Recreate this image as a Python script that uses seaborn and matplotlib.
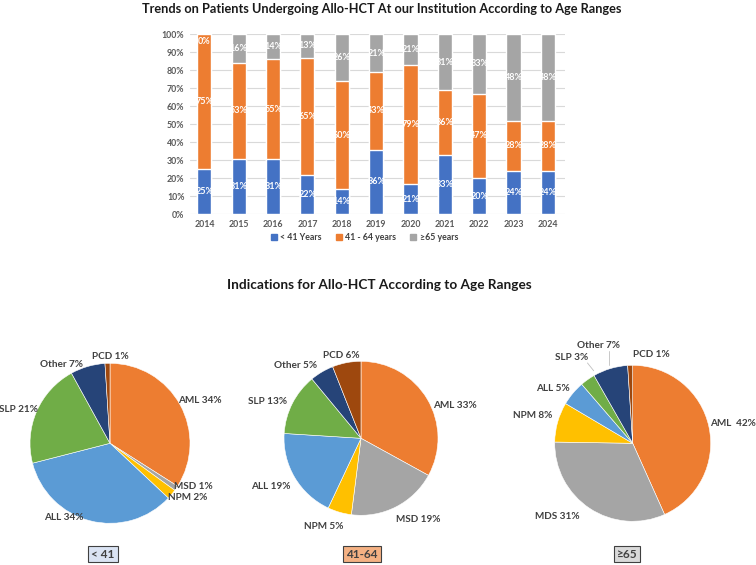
import numpy as np
import matplotlib
matplotlib.use("Agg")
import matplotlib.pyplot as plt
from matplotlib.patches import Patch
import seaborn as sns

# bar chart data (segment heights as drawn, and the printed labels)
years = ['2014', '2015', '2016', '2017', '2018', '2019', '2020', '2021', '2022', '2023', '2024']
under41 = [25, 31, 31, 22, 14, 36, 17, 33, 20, 24, 24]
age41_64 = [75, 53, 55, 65, 60, 43, 66, 36, 47, 28, 28]
over65 = [0, 16, 14, 13, 26, 21, 17, 31, 33, 48, 48]
under41_lbl = [25, 31, 31, 22, 14, 36, 21, 33, 20, 24, 24]
age41_64_lbl = [75, 53, 55, 65, 60, 43, 79, 36, 47, 28, 28]
over65_lbl = [0, 16, 14, 13, 26, 21, 21, 31, 33, 48, 48]

# pie data
pie_left_names = ['AML', 'MSD', 'NPM', 'ALL', 'SLP', 'Other', 'PCD']
pie_left_vals = [34, 1, 2, 34, 21, 7, 1]
pie_mid_names = ['AML', 'MSD', 'NPM', 'ALL', 'SLP', 'Other', 'PCD']
pie_mid_vals = [33, 19, 5, 19, 13, 5, 6]
pie_right_names = ['AML ', 'MDS', 'NPM', 'ALL', 'SLP', 'Other', 'PCD']
pie_right_vals = [42, 31, 8, 5, 3, 7, 1]
group_names = ['< 41', '41-64', '\u226565']

BLUE, ORANGE, GRAY = '#4472C4', '#ED7D31', '#A5A5A5'
pie_colors = ['#ED7D31', '#A5A5A5', '#FFC000', '#5B9BD5', '#70AD47', '#264478', '#9E480E']

sns.set_style("white")
plt.rcParams['font.family'] = ['Lato', 'DejaVu Sans']

W, H = 756, 565
fig = plt.figure(figsize=(W / 100, H / 100), dpi=100)

# ---------- stacked bars ----------
ax = fig.add_axes([190 / W, 1 - 214.3 / H, 375 / W, 180 / H])
cum1 = np.array(under41)
cum2 = cum1 + np.array(age41_64)
cum3 = cum2 + np.array(over65)
sns.barplot(x=years, y=cum3, color=GRAY, width=0.41, saturation=1, ax=ax, zorder=2)
sns.barplot(x=years, y=cum2, color=ORANGE, width=0.41, saturation=1, ax=ax, zorder=3)
sns.barplot(x=years, y=cum1, color=BLUE, width=0.41, saturation=1, ax=ax, zorder=4)

for i in range(len(years)):
    segs = [(0, cum1[i], under41_lbl[i]), (cum1[i], cum2[i], age41_64_lbl[i]), (cum2[i], cum3[i], over65_lbl[i])]
    for lo, hi, lab in segs:
        if hi - lo > 0:
            ax.text(i, (lo + hi) / 2, f'{lab}%', ha='center', va='center', color='white',
                    fontsize=6.5, fontweight='bold', zorder=5)
        else:
            ax.text(i, hi - 1.5, f'{lab}%', ha='center', va='top', color='white',
                    fontsize=6.5, fontweight='bold', zorder=5)

ax.set_ylim(0, 100)
ax.set_xlim(-0.42, 10.5)
ax.set_yticks(range(0, 101, 10))
ax.set_yticklabels([f'{v}%' for v in range(0, 101, 10)])
ax.yaxis.grid(True, color='#D9D9D9', linewidth=0.8, zorder=0)
ax.set_axisbelow(True)
for s in ax.spines.values():
    s.set_visible(False)
ax.tick_params(axis='both', length=0, labelsize=6.3, labelcolor='#595959', pad=4)
for t in ax.get_xticklabels() + ax.get_yticklabels():
    t.set_fontweight('bold')
ax.set_xlabel('')
ax.set_ylabel('')

handles = [Patch(color=BLUE, label='< 41 Years'), Patch(color=ORANGE, label='41 - 64 years'),
           Patch(color=GRAY, label='\u226565 years')]
leg = ax.legend(handles=handles, loc='center', bbox_to_anchor=(0.465, -0.13), ncol=3, frameon=False,
                fontsize=6.3, handlelength=0.7, handleheight=0.7, handletextpad=0.4, columnspacing=1.6)
for t in leg.get_texts():
    t.set_color('#404040')
    t.set_fontweight('bold')

# ---------- titles ----------
fig.text(382 / W, 1 - 9 / H, 'Trends on Patients Undergoing Allo-HCT At our Institution According to Age Ranges',
         ha='center', va='center', fontsize=9.2, fontweight='bold', color='#1a1a1a')
fig.text(379 / W, 1 - 285 / H, 'Indications for Allo-HCT According to Age Ranges',
         ha='center', va='center', fontsize=9.8, fontweight='bold', color='#1a1a1a')

# label anchor positions (radius units) and alignment for each pie
left_pos = [(0.85, 0.54, 'left'), (0.80, -0.54, 'left'), (0.73, -0.68, 'left'), (-0.58, -0.93, 'center'),
            (-0.90, 0.42, 'right'), (-0.34, 0.98, 'right'), (0.0, 1.08, 'center')]
mid_pos = [(0.94, 0.42, 'left'), (0.46, -1.06, 'left'), (-0.49, -1.15, 'center'), (-0.91, -0.63, 'right'),
           (-0.96, 0.475, 'right'), (-0.575, 0.95, 'right'), (-0.25, 1.08, 'center')]
right_pos = [(0.99, 0.25, 'left'), (-0.68, -0.94, 'right'), (-1.03, 0.36, 'right'), (-0.80, 0.70, 'right'),
             (-0.57, 1.10, 'right'), (-0.44, 1.25, 'center'), (0.0, 1.14, 'left')]


def pie_axes(cx, cy, r, k=1.6):
    a = fig.add_axes([(cx - k * r) / W, 1 - (cy + k * r) / H, 2 * k * r / W, 2 * k * r / H])
    a.set_aspect('equal')
    a.axis('off')
    return a


def draw_pie(a, names, vals, pos):
    a.pie(vals, colors=pie_colors, startangle=90, counterclock=False, radius=1,
          wedgeprops=dict(edgecolor='white', linewidth=0.4))
    for n, v, (x, y, ha) in zip(names, vals, pos):
        a.text(x, y, f'{n} {v}%', ha=ha, va='center', fontsize=7.2, fontweight='bold', color='#404040')
    a.set_xlim(-1.6, 1.6)
    a.set_ylim(-1.6, 1.6)


a1 = pie_axes(110, 443.3, 80)
draw_pie(a1, pie_left_names, pie_left_vals, left_pos)
a2 = pie_axes(361, 438.3, 77)
draw_pie(a2, pie_mid_names, pie_mid_vals, mid_pos)
a3 = pie_axes(632.7, 443.3, 78)
draw_pie(a3, pie_right_names, pie_right_vals, right_pos)
# leader lines for the two small slices on the right pie
a3.plot([-0.58, -0.50], [1.03, 0.93], color='#BFBFBF', linewidth=0.6)
a3.plot([-0.30, -0.30], [1.18, 1.00], color='#BFBFBF', linewidth=0.6)

# group boxes under pies
box_styles = [('#DAE3F3', 103), ('#F4B183', 362), ('#D9D9D9', 627)]
for name, (fc, cx) in zip(group_names, box_styles):
    fig.text(cx / W, 1 - 554 / H, name, ha='center', va='center', fontsize=8.5, fontweight='bold',
             color='#404040',
             bbox=dict(boxstyle='square,pad=0.25', facecolor=fc, edgecolor='#404040', linewidth=0.8))

fig.savefig('out.png', dpi=100)
